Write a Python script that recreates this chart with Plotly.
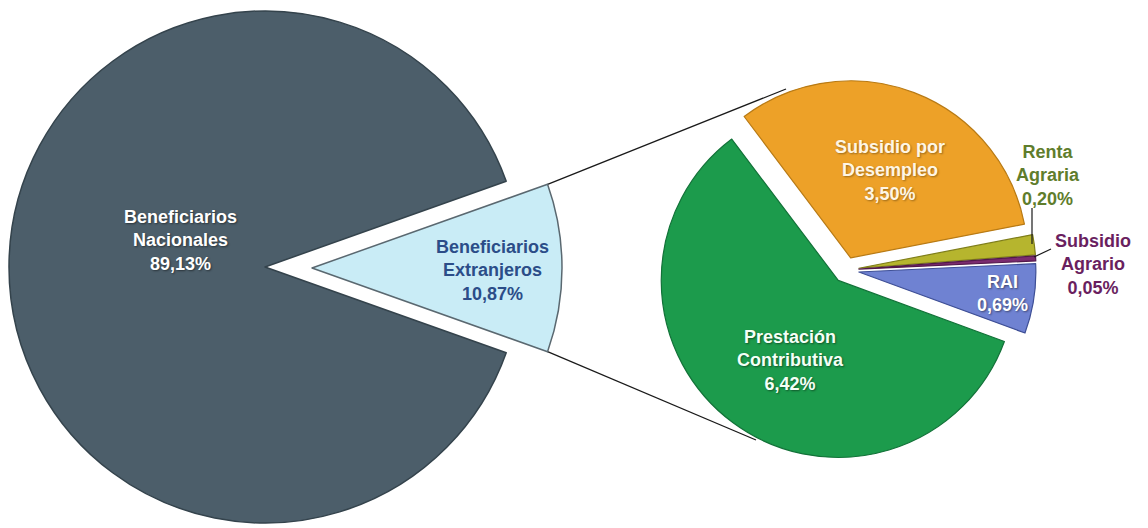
import math
import plotly.graph_objects as go

W, H = 1148, 528

# ---------------- data ----------------
main_labels = ["Beneficiarios Extranjeros", "Beneficiarios Nacionales"]
main_text = ["Beneficiarios<br>Extranjeros", "Beneficiarios<br>Nacionales"]
main_values = [10.87, 89.13]

sub_labels = ["Subsidio por Desempleo", "Renta Agraria", "Subsidio Agrario", "RAI", "Prestación Contributiva"]
sub_text = ["Subsidio por<br>Desempleo", "Renta<br>Agraria", "Subsidio<br>Agrario", "RAI", "Prestación<br>Contributiva"]
sub_values = [3.50, 0.20, 0.05, 0.69, 6.42]

# ---------------- styles ----------------
main_colors = ["#c9ecf6", "#4c5e6a"]
main_lines = ["#5a6870", "#34434c"]
sub_colors = ["#eda128", "#b6b52e", "#7b2b6f", "#6f82d2", "#1c9b4c"]
sub_lines = ["#b87a14", "#7f7e1a", "#52184a", "#3e4f96", "#127238"]
TRANSP = "rgba(0,0,0,0)"
FONT = "Liberation Sans, Arial, sans-serif"


def fmt(v):
    return f"{v:.2f}".replace(".", ",") + "%"


def dom(cx, cy, half):
    return dict(x=[(cx - half) / W, (cx + half) / W],
                y=[1 - (cy + half) / H, 1 - (cy - half) / H])


def px(x, y):
    return x / W, 1 - y / H


# ---------------- geometry (pixels) ----------------
L_CX, L_CY, L_R = 265, 267, 256        # main pie
B_CX, B_CY, B_R = 312, 268, 250        # exploded slice of main pie
R_CX, R_CY, R_R = 846, 270, 177        # secondary pie
R_PULL = 13 / R_R
R_ROT = -37

tot = sum(main_values)
main_rot = 90 - main_values[0] / tot * 360 / 2

fig = go.Figure()

# main pie: big slice
fig.add_trace(go.Pie(
    labels=main_labels, values=main_values, sort=False, direction="clockwise",
    rotation=main_rot, textinfo="none", hoverinfo="label+percent",
    marker=dict(colors=[TRANSP, main_colors[1]],
                line=dict(color=[TRANSP, main_lines[1]], width=1.5)),
    domain=dom(L_CX, L_CY, L_R), showlegend=False,
))
# main pie: exploded slice
fig.add_trace(go.Pie(
    labels=main_labels, values=main_values, sort=False, direction="clockwise",
    rotation=main_rot, textinfo="none", hoverinfo="label+percent",
    marker=dict(colors=[main_colors[0], TRANSP],
                line=dict(color=[main_lines[0], TRANSP], width=1.5)),
    domain=dom(B_CX, B_CY, B_R), showlegend=False,
))
# secondary pie
half_r = R_R * (1 + R_PULL)
fig.add_trace(go.Pie(
    labels=sub_labels, values=sub_values, sort=False, direction="clockwise",
    rotation=R_ROT, textinfo="none", hoverinfo="label+value",
    pull=[R_PULL] * len(sub_values),
    marker=dict(colors=sub_colors, line=dict(color=sub_lines, width=1.2)),
    domain=dom(R_CX, R_CY, half_r), showlegend=False,
))

# connector lines from the exploded slice corners to the secondary pie
a1 = math.radians(main_rot)
a2 = math.radians(main_rot + main_values[0] / tot * 360)
c1 = (B_CX + B_R * math.sin(a1), B_CY - B_R * math.cos(a1))
c2 = (B_CX + B_R * math.sin(a2), B_CY - B_R * math.cos(a2))
top_end = (786, 89)
bot_end = (756, 440)
shapes = []
for s, e in [(c1, top_end), (c2, bot_end)]:
    x0, y0 = px(*s)
    x1, y1 = px(*e)
    shapes.append(dict(type="line", xref="paper", yref="paper", x0=x0, y0=y0, x1=x1, y1=y1,
                       line=dict(color="#1a1a1a", width=1.3), layer="below"))
# leader lines for the small outside labels
for s, e in [((1032, 208), (1032, 244)), ((1034, 257), (1051, 249))]:
    x0, y0 = px(*s)
    x1, y1 = px(*e)
    shapes.append(dict(type="line", xref="paper", yref="paper", x0=x0, y0=y0, x1=x1, y1=y1,
                       line=dict(color="#1a1a1a", width=1.2)))

# labels
label_pos_main = [(492, 270), (180, 240)]
label_col_main = ["#2b4d88", "#ffffff"]
label_pos_sub = [(890, 170), (1048, 175), (1093, 264), (1002, 293), (790, 360)]
label_col_sub = ["#fff6e4", "#5f7d2c", "#6a1f5f", "#ffffff", "#f4fff6"]
shadow_main = ["none", "1px 1px 2px rgba(0,0,0,0.45)"]
shadow_sub = ["1px 1px 2px rgba(0,0,0,0.35)", "none", "none",
              "1px 1px 2px rgba(0,0,0,0.45)", "1px 1px 2px rgba(0,0,0,0.45)"]

annotations = []
for txt, v, (x, y), col, sh in zip(main_text, main_values, label_pos_main, label_col_main, shadow_main):
    ax, ay = px(x, y)
    annotations.append(dict(text=f"{txt}<br>{fmt(v)}", x=ax, y=ay, xref="paper", yref="paper",
                            xanchor="center", yanchor="middle", showarrow=False, align="center",
                            font=dict(family=FONT, size=18, color=col, weight="bold", shadow=sh)))
for txt, v, (x, y), col, sh in zip(sub_text, sub_values, label_pos_sub, label_col_sub, shadow_sub):
    ax, ay = px(x, y)
    annotations.append(dict(text=f"{txt}<br>{fmt(v)}", x=ax, y=ay, xref="paper", yref="paper",
                            xanchor="center", yanchor="middle", showarrow=False, align="center",
                            font=dict(family=FONT, size=18, color=col, weight="bold", shadow=sh)))

fig.update_layout(
    width=W, height=H,
    margin=dict(l=0, r=0, t=0, b=0),
    paper_bgcolor="white", plot_bgcolor="white",
    shapes=shapes, annotations=annotations,
    showlegend=False,
)

fig.write_html("out.html",
               config={"displayModeBar": False},
               post_script="document.body.style.margin='0';document.body.style.padding='0';")
